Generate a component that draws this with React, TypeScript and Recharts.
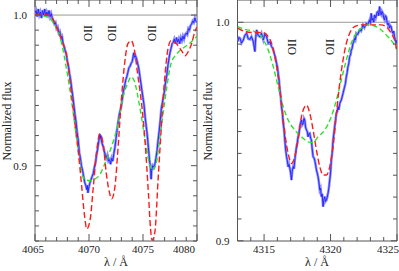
import { LineChart, Line, XAxis, YAxis, ReferenceLine, ReferenceArea, ReferenceDot } from 'recharts';

const AXIS = '#555';
const FONT = "'Liberation Serif', 'Times New Roman', Times, serif";
const OBS = '#1f1fff';
const OBS_HALO = '#8f8fff';
const RED = '#ff1a1a';
const GREEN = '#2ee02e';

// left window: O II 4069-4076 blend  [wavelength, normalized flux]
const obsLeft: [number, number][] = [
  [4065.0, 1.001], [4065.1, 1.003], [4065.2, 0.999], [4065.3, 1.004], [4065.4, 1.0], [4065.5, 1.002],
  [4065.6, 0.998], [4065.7, 1.003], [4065.8, 1.0], [4065.9, 1.004], [4066.0, 0.999], [4066.1, 1.002],
  [4066.2, 1.0], [4066.3, 1.003], [4066.4, 0.999], [4066.5, 1.001], [4066.6, 0.998], [4066.7, 0.996],
  [4066.8, 0.994], [4066.9, 0.995], [4067.0, 0.991], [4067.1, 0.992], [4067.2, 0.988], [4067.3, 0.989],
  [4067.4, 0.985], [4067.5, 0.986], [4067.6, 0.981], [4067.7, 0.979], [4067.8, 0.976], [4067.9, 0.974],
  [4068.0, 0.969], [4068.1, 0.966], [4068.2, 0.961], [4068.3, 0.957], [4068.4, 0.951], [4068.5, 0.946],
  [4068.6, 0.94], [4068.7, 0.934], [4068.8, 0.929], [4068.9, 0.922], [4069.0, 0.917], [4069.1, 0.909],
  [4069.2, 0.905], [4069.3, 0.9], [4069.4, 0.897], [4069.5, 0.893], [4069.6, 0.889], [4069.7, 0.887],
  [4069.8, 0.884], [4069.85, 0.887], [4069.9, 0.882], [4070.0, 0.886], [4070.1, 0.889], [4070.2, 0.891],
  [4070.3, 0.893], [4070.4, 0.895], [4070.5, 0.899], [4070.6, 0.902], [4070.7, 0.907], [4070.8, 0.911],
  [4070.9, 0.916], [4071.0, 0.921], [4071.05, 0.918], [4071.1, 0.92], [4071.2, 0.915], [4071.3, 0.913],
  [4071.4, 0.91], [4071.5, 0.907], [4071.6, 0.905], [4071.7, 0.907], [4071.8, 0.903], [4071.9, 0.904],
  [4072.0, 0.901], [4072.1, 0.905], [4072.2, 0.903], [4072.3, 0.908], [4072.4, 0.912], [4072.5, 0.918],
  [4072.6, 0.924], [4072.7, 0.929], [4072.8, 0.934], [4072.9, 0.937], [4073.0, 0.94], [4073.1, 0.945],
  [4073.2, 0.95], [4073.3, 0.953], [4073.4, 0.957], [4073.5, 0.959], [4073.6, 0.962], [4073.7, 0.965],
  [4073.8, 0.966], [4073.9, 0.968], [4074.0, 0.969], [4074.1, 0.973], [4074.15, 0.975], [4074.2, 0.972],
  [4074.3, 0.973], [4074.4, 0.971], [4074.5, 0.968], [4074.6, 0.965], [4074.7, 0.96], [4074.8, 0.955],
  [4074.9, 0.95], [4075.0, 0.945], [4075.1, 0.94], [4075.2, 0.932], [4075.3, 0.926], [4075.4, 0.92],
  [4075.5, 0.912], [4075.6, 0.904], [4075.7, 0.898], [4075.75, 0.891], [4075.8, 0.897], [4075.9, 0.9],
  [4076.0, 0.899], [4076.1, 0.901], [4076.2, 0.905], [4076.3, 0.91], [4076.4, 0.917], [4076.5, 0.923],
  [4076.6, 0.93], [4076.7, 0.938], [4076.8, 0.942], [4076.9, 0.946], [4077.0, 0.95], [4077.1, 0.956],
  [4077.2, 0.96], [4077.3, 0.966], [4077.4, 0.971], [4077.5, 0.975], [4077.6, 0.978], [4077.7, 0.981],
  [4077.8, 0.982], [4077.9, 0.984], [4078.0, 0.981], [4078.1, 0.985], [4078.2, 0.982], [4078.3, 0.984],
  [4078.4, 0.981], [4078.5, 0.985], [4078.6, 0.983], [4078.7, 0.986], [4078.8, 0.984], [4078.9, 0.987],
  [4079.0, 0.988], [4079.1, 0.987], [4079.2, 0.991], [4079.3, 0.99], [4079.4, 0.993], [4079.5, 0.994],
  [4079.6, 0.996], [4079.7, 0.995], [4079.8, 0.998], [4079.9, 0.996], [4080.0, 0.995],
];

const redLeft: [number, number][] = [
  [4065.0, 1.0], [4066.0, 1.0], [4066.5, 0.999], [4067.0, 0.992], [4067.3, 0.987], [4067.6, 0.981],
  [4067.9, 0.974], [4068.2, 0.959], [4068.5, 0.94], [4068.8, 0.922], [4069.0, 0.91], [4069.3, 0.888],
  [4069.6, 0.866], [4069.8, 0.858], [4070.1, 0.864], [4070.4, 0.886], [4070.7, 0.909], [4071.0, 0.921],
  [4071.3, 0.915], [4071.6, 0.895], [4071.9, 0.882], [4072.1, 0.878], [4072.4, 0.886], [4072.7, 0.913],
  [4073.0, 0.944], [4073.3, 0.968], [4073.6, 0.981], [4073.9, 0.983], [4074.2, 0.977], [4074.5, 0.961],
  [4074.9, 0.939], [4075.2, 0.915], [4075.5, 0.882], [4075.7, 0.858], [4075.85, 0.8505], [4076.1, 0.856],
  [4076.4, 0.891], [4076.7, 0.926], [4077.0, 0.957], [4077.3, 0.977], [4077.6, 0.983], [4078.1, 0.981],
  [4078.6, 0.976], [4078.9, 0.973], [4079.2, 0.976], [4079.5, 0.981], [4079.8, 0.989], [4080.0, 0.992],
];

const greenLeft: [number, number][] = [
  [4065.0, 1.0], [4066.0, 0.999], [4066.7, 0.995], [4067.3, 0.986], [4067.9, 0.965], [4068.5, 0.937],
  [4069.0, 0.91], [4069.3, 0.896], [4069.6, 0.891], [4070.1, 0.89], [4070.5, 0.891], [4071.0, 0.894],
  [4071.5, 0.902], [4072.1, 0.913], [4072.7, 0.928], [4073.1, 0.944], [4073.6, 0.955], [4073.9, 0.959],
  [4074.2, 0.956], [4074.7, 0.939], [4075.2, 0.917], [4075.6, 0.901], [4075.9, 0.897], [4076.2, 0.901],
  [4076.7, 0.926], [4077.2, 0.952], [4077.6, 0.968], [4078.1, 0.974], [4078.7, 0.978], [4079.3, 0.981],
  [4080.0, 0.986],
];

// right window: O II 4317 / 4319
const obsRight: [number, number][] = [
  [4313.0, 0.9911], [4313.1, 0.993], [4313.19, 0.9927], [4313.3, 0.9905], [4313.44, 0.9919], [4313.55, 0.994],
  [4313.69, 0.995], [4313.8, 0.9925], [4313.94, 0.9922], [4314.05, 0.9935], [4314.19, 0.9911], [4314.31, 0.9866],
  [4314.37, 0.993], [4314.44, 0.9965], [4314.55, 0.994], [4314.69, 0.9934], [4314.8, 0.995], [4314.94, 0.9919],
  [4315.05, 0.9945], [4315.19, 0.9934], [4315.31, 0.9904], [4315.45, 0.991], [4315.56, 0.9889], [4315.66, 0.988],
  [4315.76, 0.9858], [4315.85, 0.984], [4315.94, 0.9812], [4316.0, 0.9795], [4316.06, 0.9766], [4316.12, 0.974],
  [4316.19, 0.969], [4316.25, 0.966], [4316.31, 0.9614], [4316.37, 0.959], [4316.44, 0.9537], [4316.5, 0.951],
  [4316.56, 0.9461], [4316.62, 0.942], [4316.69, 0.9385], [4316.75, 0.9365], [4316.81, 0.9339], [4316.87, 0.935],
  [4316.94, 0.9331], [4317.0, 0.931], [4317.06, 0.9278], [4317.12, 0.932], [4317.19, 0.9339], [4317.25, 0.933],
  [4317.31, 0.9369], [4317.37, 0.94], [4317.44, 0.9431], [4317.5, 0.945], [4317.56, 0.9476], [4317.62, 0.949],
  [4317.69, 0.9522], [4317.75, 0.954], [4317.81, 0.9553], [4317.87, 0.953], [4317.94, 0.9537], [4318.0, 0.956],
  [4318.06, 0.9553], [4318.12, 0.952], [4318.19, 0.9507], [4318.25, 0.95], [4318.31, 0.9476], [4318.37, 0.949],
  [4318.44, 0.9492], [4318.5, 0.947], [4318.56, 0.9461], [4318.62, 0.942], [4318.69, 0.9385], [4318.75, 0.938],
  [4318.81, 0.9369], [4318.87, 0.935], [4318.94, 0.9324], [4319.0, 0.931], [4319.06, 0.9293], [4319.12, 0.927],
  [4319.19, 0.9232], [4319.25, 0.924], [4319.31, 0.9202], [4319.37, 0.9215], [4319.44, 0.9156], [4319.5, 0.919],
  [4319.56, 0.9202], [4319.62, 0.918], [4319.69, 0.9186], [4319.75, 0.92], [4319.81, 0.9217], [4319.87, 0.924],
  [4319.94, 0.9278], [4320.0, 0.931], [4320.06, 0.9369], [4320.12, 0.94], [4320.19, 0.9461], [4320.25, 0.949],
  [4320.31, 0.9522], [4320.37, 0.955], [4320.44, 0.9583], [4320.5, 0.959], [4320.56, 0.9614], [4320.62, 0.96],
  [4320.7, 0.963], [4320.81, 0.9644], [4320.94, 0.9675], [4321.0, 0.969], [4321.06, 0.9705], [4321.12, 0.972],
  [4321.19, 0.9751], [4321.25, 0.977], [4321.31, 0.9797], [4321.37, 0.981], [4321.44, 0.9843], [4321.5, 0.985],
  [4321.56, 0.9873], [4321.62, 0.988], [4321.69, 0.9904], [4321.75, 0.991], [4321.81, 0.9927], [4321.87, 0.992],
  [4321.94, 0.995], [4322.05, 0.9945], [4322.19, 0.9965], [4322.3, 0.996], [4322.44, 0.9988], [4322.55, 0.9975],
  [4322.69, 0.9995], [4322.8, 0.999], [4322.94, 1.0011], [4323.0, 0.9995], [4323.06, 1.0041], [4323.12, 1.001],
  [4323.19, 1.0018], [4323.25, 1.0], [4323.31, 1.0034], [4323.4, 1.002], [4323.5, 1.0045], [4323.56, 1.0049],
  [4323.62, 1.003], [4323.69, 1.0072], [4323.75, 1.004], [4323.81, 1.0034], [4323.87, 1.005], [4323.94, 1.0041],
  [4324.0, 1.002], [4324.06, 1.0011], [4324.12, 1.003], [4324.19, 1.0026], [4324.25, 1.0], [4324.31, 0.9988],
  [4324.37, 0.9995], [4324.44, 0.9973], [4324.5, 0.9985], [4324.56, 0.998], [4324.62, 0.996], [4324.69, 0.995],
  [4324.75, 0.996], [4324.81, 0.9934], [4324.87, 0.992], [4324.94, 0.9904], [4325.0, 0.9919],
];

const redRight: [number, number][] = [
  [4313.0, 0.9973], [4313.6, 0.9957], [4314.1, 0.9953], [4314.6, 0.9953], [4315.06, 0.995], [4315.31, 0.9934],
  [4315.56, 0.9904], [4315.81, 0.9843], [4316.06, 0.9751], [4316.31, 0.9629], [4316.56, 0.9492], [4316.81, 0.94],
  [4317.06, 0.9354], [4317.31, 0.9385], [4317.56, 0.9461], [4317.81, 0.9568], [4318.06, 0.9614], [4318.19, 0.9621],
  [4318.44, 0.9583], [4318.69, 0.9507], [4318.94, 0.9415], [4319.19, 0.9339], [4319.44, 0.9301], [4319.69, 0.9301],
  [4319.94, 0.9339], [4320.19, 0.9431], [4320.44, 0.9583], [4320.69, 0.9721], [4320.94, 0.9827], [4321.19, 0.9904],
  [4321.44, 0.995], [4321.81, 0.998], [4322.31, 0.9988], [4322.81, 0.9988], [4323.31, 0.9988], [4323.81, 0.9988],
  [4324.19, 0.998], [4324.56, 0.995], [4324.81, 0.9919], [4325.0, 0.987],
];

const greenRight: [number, number][] = [
  [4313.0, 0.998], [4313.56, 0.9968], [4314.31, 0.9957], [4314.81, 0.9934], [4315.31, 0.9873], [4315.69, 0.9797],
  [4316.06, 0.9705], [4316.44, 0.9614], [4316.81, 0.9553], [4317.31, 0.9507], [4317.81, 0.9476], [4318.31, 0.9453],
  [4318.69, 0.945], [4319.06, 0.9476], [4319.56, 0.9507], [4320.06, 0.9568], [4320.44, 0.9644], [4320.81, 0.9736],
  [4321.19, 0.9827], [4321.56, 0.9904], [4321.94, 0.995], [4322.31, 0.9973], [4322.81, 0.9988], [4323.31, 0.9983],
  [4323.81, 0.9965], [4324.31, 0.9934], [4324.81, 0.9896], [4325.0, 0.9873],
];

// line identifications
const oiiLeft = [4069.9, 4072.1, 4075.86];
const oiiRight = [4317.1, 4319.95];

const xTicksLeft = [4065, 4066, 4067, 4068, 4069, 4070, 4071, 4072, 4073, 4074, 4075, 4076, 4077, 4078, 4079, 4080];
const xTicksRight = [4313, 4314, 4315, 4316, 4317, 4318, 4319, 4320, 4321, 4322, 4323, 4324, 4325];
const yTicksLeft = [0.85, 0.86, 0.87, 0.88, 0.89, 0.9, 0.91, 0.92, 0.93, 0.94, 0.95, 0.96, 0.97, 0.98, 0.99, 1.0];
const yTicksRight = [0.9, 0.91, 0.92, 0.93, 0.94, 0.95, 0.96, 0.97, 0.98, 0.99, 1.0];
const yLabelsLeft = [0.9, 1.0];
const yLabelsRight = [1.0];

const toPts = (a: [number, number][]) => a.map(([x, y]) => ({ x, y }));

const H = 271;
const PLOT_H = 241;

function YTick(props: any) {
  const { x, y, payload, plotW } = props;
  const v = Math.round(payload.value * 100) / 100;
  const len = v === 0.9 || v === 1 ? 6 : 4;
  return (
    <g>
      <line x1={x} x2={x + len} y1={y} y2={y} stroke={AXIS} />
      <line x1={x + plotW} x2={x + plotW - len} y1={y} y2={y} stroke={AXIS} />
    </g>
  );
}

function YLabel(props: any) {
  const { viewBox, text } = props;
  return (
    <text
      x={viewBox.x - 8}
      y={viewBox.y + 4}
      textAnchor="end"
      fill="#222"
      style={{ fontFamily: FONT, fontSize: 11 }}
    >
      {text}
    </text>
  );
}

function XTick(props: any) {
  const { x, y, payload, first, last, lastShift } = props;
  const v = payload.value;
  const major = v % 5 === 0;
  const len = major ? 7 : 4;
  let anchor = 'middle';
  let tx = x;
  if (v === first) tx = x - 2;
  if (v === last) {
    anchor = 'end';
    tx = x + lastShift;
  }
  return (
    <g>
      <line x1={x} x2={x} y1={y} y2={y - len} stroke={AXIS} />
      <line x1={x} x2={x} y1={y - PLOT_H} y2={y - PLOT_H + len} stroke={AXIS} />
      {major && (
        <text x={tx} y={y + 12} textAnchor={anchor} fill="#222" style={{ fontFamily: FONT, fontSize: 11 }}>
          {v}
        </text>
      )}
    </g>
  );
}

function OIIMark(props: any) {
  const { cx, cy } = props;
  return (
    <text
      x={cx}
      y={cy}
      transform={`rotate(-90, ${cx}, ${cy})`}
      textAnchor="middle"
      dominantBaseline="central"
      fill="#111"
      style={{ fontFamily: FONT, fontSize: 11.5 }}
    >
      OII
    </text>
  );
}

interface PanelProps {
  left: number;
  width: number;
  margin: { top: number; right: number; bottom: number; left: number };
  xDomain: [number, number];
  yDomain: [number, number];
  xTicks: number[];
  yTicks: number[];
  yLabels: number[];
  obs: [number, number][];
  red: [number, number][];
  green: [number, number][];
  oii: number[];
  oiiY: number;
  lastShift: number;
}

function Panel(p: PanelProps) {
  // axes take 1px each (an axis of size 0 is not drawn)
  const plotW = p.width - p.margin.left - p.margin.right - 1;
  const obs = toPts(p.obs);
  return (
    <div style={{ position: 'absolute', left: p.left, top: 0 }}>
      <LineChart width={p.width} height={H} margin={p.margin}>
        <XAxis
          type="number"
          dataKey="x"
          domain={p.xDomain}
          allowDataOverflow
          ticks={p.xTicks}
          interval={0}
          height={1}
          tickSize={0}
          tickMargin={0}
          tickLine={false}
          axisLine={false}
          tick={(t: any) => (
            <XTick {...t} first={p.xTicks[0]} last={p.xTicks[p.xTicks.length - 1]} lastShift={p.lastShift} />
          )}
        />
        <YAxis
          type="number"
          dataKey="y"
          domain={p.yDomain}
          allowDataOverflow
          ticks={p.yTicks}
          interval={0}
          width={1}
          tickSize={0}
          tickMargin={0}
          tickLine={false}
          axisLine={false}
          tick={(t: any) => <YTick {...t} plotW={plotW} />}
        />
        <ReferenceArea
          x1={p.xDomain[0]}
          x2={p.xDomain[1]}
          y1={p.yDomain[0]}
          y2={p.yDomain[1]}
          fill="none"
          stroke={AXIS}
          strokeWidth={1}
        />
        {p.yLabels.map((v) => (
          <ReferenceLine
            key={v}
            y={v}
            stroke={v === 1 ? '#9a9a9a' : 'none'}
            strokeWidth={1}
            ifOverflow="visible"
            label={(lp: any) => <YLabel {...lp} text={v.toFixed(1)} />}
          />
        ))}
        <Line data={obs} dataKey="y" stroke={OBS_HALO} strokeWidth={2.6} dot={false} isAnimationActive={false} />
        <Line data={obs} dataKey="y" stroke={OBS} strokeWidth={0.9} dot={false} isAnimationActive={false} />
        <Line
          data={toPts(p.green)}
          dataKey="y"
          type="monotone"
          stroke={GREEN}
          strokeWidth={1.4}
          strokeDasharray="5 3"
          dot={false}
          isAnimationActive={false}
        />
        <Line
          data={toPts(p.red)}
          dataKey="y"
          type="monotone"
          stroke={RED}
          strokeWidth={1.4}
          strokeDasharray="6 3"
          dot={false}
          isAnimationActive={false}
        />
        {p.oii.map((w) => (
          <ReferenceDot key={w} x={w} y={p.oiiY} r={0} shape={(s: any) => <OIIMark {...s} />} />
        ))}
      </LineChart>
    </div>
  );
}

export default function App() {
  return (
    <div style={{ position: 'absolute', left: 0, top: 0, width: 399, height: H, background: '#fff' }}>
      <Panel
        left={0}
        width={200}
        margin={{ top: 0, right: 3, bottom: 29, left: 34 }}
        xDomain={[4065, 4080]}
        yDomain={[0.85, 1.01]}
        xTicks={xTicksLeft}
        yTicks={yTicksLeft}
        yLabels={yLabelsLeft}
        obs={obsLeft}
        red={redLeft}
        green={greenLeft}
        oii={oiiLeft}
        oiiY={0.988}
        lastShift={-2}
      />
      <Panel
        left={200}
        width={199}
        margin={{ top: 0, right: 2, bottom: 29, left: 36.5 }}
        xDomain={[4313, 4325]}
        yDomain={[0.8999, 1.0102]}
        xTicks={xTicksRight}
        yTicks={yTicksRight}
        yLabels={yLabelsRight}
        obs={obsRight}
        red={redRight}
        green={greenRight}
        oii={oiiRight}
        oiiY={0.9887}
        lastShift={2}
      />
      <svg width={399} height={H} style={{ position: 'absolute', left: 0, top: 0, pointerEvents: 'none' }}>
        <g fill="#222" style={{ fontFamily: FONT, fontSize: 12 }}>
          <text x={10.5} y={121} transform="rotate(-90, 10.5, 121)" textAnchor="middle">Normalized flux</text>
          <text x={211.5} y={121} transform="rotate(-90, 211.5, 121)" textAnchor="middle">Normalized flux</text>
          <text x={116} y={266} textAnchor="middle">λ / Å</text>
          <text x={317} y={266} textAnchor="middle">λ / Å</text>
          <text x={229.5} y={245} textAnchor="end" style={{ fontSize: 11 }}>0.9</text>
        </g>
      </svg>
    </div>
  );
}
